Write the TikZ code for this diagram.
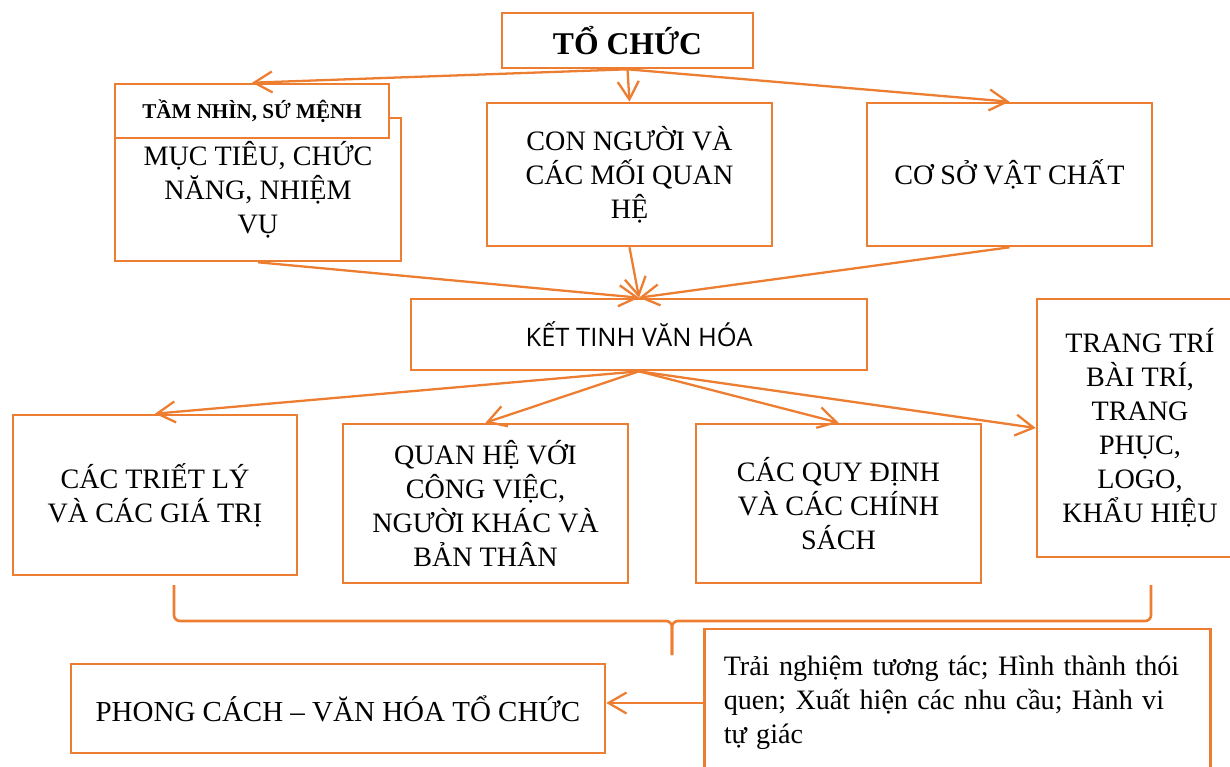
\documentclass[tikz,border=0pt]{standalone}
\usepackage{fontspec}
\setmainfont{Liberation Serif}
\newfontfamily\kettfont{Open Sans}
\usetikzlibrary{arrows.meta}
\usetikzlibrary{positioning}
\definecolor{orgline}{RGB}{237,125,49}

\begin{document}
\begin{tikzpicture}[x=0.02cm,y=-0.02cm,
  box/.style={draw=orgline,line width=1.5pt,fill=white,inner sep=0pt,align=center,
    font=\fontsize{16}{19.3}\selectfont},
  arr/.style={draw=orgline,line width=1.3pt,-{Straight Barb[length=0.36cm,width=0.42cm]}},
  brace/.style={draw=orgline,line width=1.5pt,rounded corners=0.12cm}]
  \useasboundingbox (0,0) rectangle (1230,767);
  \clip (0,0) rectangle (1230,767);

  \node[box,minimum width=5.02cm,minimum height=1.1cm,font=\fontsize{18}{21}\selectfont\bfseries] (org) at (627.5,40.5) {TỔ CHỨC};
  \node[box,minimum width=5.72cm,minimum height=2.86cm] (goals) at (258,189.5) {MỤC TIÊU, CHỨC\\NĂNG, NHIỆM\\VỤ};
  \node[box,minimum width=5.48cm,minimum height=1.08cm,font=\fontsize{12}{14}\selectfont\bfseries] (vision) at (252,111) {TẦM NHÌN, SỨ MỆNH};
  \node[box,minimum width=5.7cm,minimum height=2.86cm] (people) at (629.5,174.5) {CON NGƯỜI VÀ\\CÁC MỐI QUAN\\HỆ};
  \node[box,minimum width=5.7cm,minimum height=2.86cm] (facility) at (1009.5,174.5) {CƠ SỞ VẬT CHẤT};

  \node[box,minimum width=9.12cm,minimum height=1.42cm,font=\fontsize{14.5}{17}\kettfont] (crystal) at (639,334.5) {KẾT TINH VĂN HÓA};

  \node[box,minimum width=5.68cm,minimum height=3.2cm] (philo) at (155,495) {CÁC TRIẾT LÝ\\VÀ CÁC GIÁ TRỊ};
  \node[box,minimum width=5.7cm,minimum height=3.18cm] (relation) at (485.5,503.5) {QUAN HỆ VỚI\\CÔNG VIỆC,\\NGƯỜI KHÁC VÀ\\BẢN THÂN};
  \node[box,minimum width=5.7cm,minimum height=3.18cm] (rules) at (838.5,503.5) {CÁC QUY ĐỊNH\\VÀ CÁC CHÍNH\\SÁCH};
  \node[box,minimum width=4.12cm,minimum height=5.16cm] (deco) at (1140,428) {TRANG TRÍ\\BÀI TRÍ,\\TRANG\\PHỤC,\\LOGO,\\KHẨU HIỆU};

  \node[box,minimum width=10.68cm,minimum height=1.78cm,font=\fontsize{16.5}{19.5}\selectfont] (style) at (338,708.5) {PHONG CÁCH -- VĂN HÓA TỔ CHỨC};
  \node[box,align=left,text width=9.35cm,inner xsep=0.38cm,minimum height=2.96cm,font=\fontsize{16}{19.3}\selectfont] (habit) at (957.5,703) {Trải nghiệm tương tác; Hình thành thói\\quen; Xuất hiện các nhu cầu; Hành vi\\tự giác};

  \draw[arr] (org.south)--(vision.north);
  \draw[arr] (org.south)--(people.north);
  \draw[arr] (org.south)--(facility.north);
  \draw[arr] (goals.south)--(crystal.north);
  \draw[arr] (people.south)--(crystal.north);
  \draw[arr] (facility.south)--(crystal.north);
  \draw[arr] (crystal.south)--(philo.north);
  \draw[arr] (crystal.south)--(relation.north);
  \draw[arr] (crystal.south)--(rules.north);
  \draw[arr] (crystal.south)--(deco.west);
  \draw[arr] (habit.west)--(habit.west -| style.east);

  % brace under the four boxes
  \coordinate (bl) at (174,585);
  \coordinate (br) at (1151,585);
  \coordinate (bm) at (672,621);
  \coordinate (bt) at (672,655);
  \draw[brace] (bl) |- (bm) -- (bt);
  \draw[brace] (br) |- (bm) -- (bt);
\end{tikzpicture}
\end{document}
